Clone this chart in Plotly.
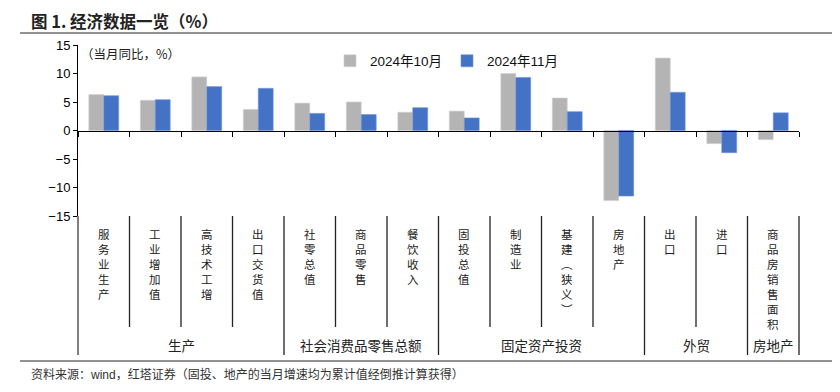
import plotly.graph_objects as go

# ---------------- data ----------------
categories = ["服务业生产", "工业增加值", "高技术工增", "出口交货值", "社零总值", "商品零售",
              "餐饮收入", "固投总值", "制造业", "基建（狭义）", "房地产", "出口", "进口", "商品房销售面积"]
groups = ["生产", "社会消费品零售总额", "固定资产投资", "外贸", "房地产"]
group_sizes = [4, 3, 4, 2, 1]
series_names = ["2024年10月", "2024年11月"]
oct_2024 = [6.3, 5.3, 9.4, 3.7, 4.8, 5.0, 3.2, 3.4, 10.0, 5.7, -12.3, 12.7, -2.3, -1.6]
nov_2024 = [6.1, 5.4, 7.7, 7.4, 3.0, 2.8, 4.0, 2.2, 9.3, 3.3, -11.5, 6.7, -3.9, 3.1]
y_ticks = [-15, -10, -5, 0, 5, 10, 15]
title_text = "图 1. 经济数据一览（%）"
unit_text = "（当月同比，%）"
source_text = "资料来源：wind，红塔证券（固投、地产的当月增速均为累计值经倒推计算获得）"

# ---------------- layout geometry (page pixels) ----------------
PAGE_W, PAGE_H = 840, 392
OFF = 8                       # default body margin of the html page
W, H = PAGE_W - OFF, PAGE_H - OFF
L, R, T, B = 78, 799, 45, 216  # plot area in page pixels
PW, PH = R - L, B - T


def px_x(p):
    return (p - L) / PW


def px_y(p):
    return (B - p) / PH


CJK = "Noto Sans CJK SC"
LAT = "Liberation Sans, Arial, Noto Sans CJK SC"
colors = ["#B4B4B4", "#4472C4"]
edge_colors = ["#D0D0D0", "#6F93D6"]

fig = go.Figure()
for name, vals, c, ec in zip(series_names, [oct_2024, nov_2024], colors, edge_colors):
    fig.add_trace(go.Bar(x=categories, y=vals, name=name, marker_color=c,
                         marker_line=dict(color=ec, width=0.6)))

n = len(categories)
shapes = []
annotations = []

# y axis extension downward through label area
shapes.append(dict(type="line", xref="paper", yref="paper", x0=0, x1=0,
                   y0=0, y1=px_y(355), line=dict(color="#000", width=1)))

# group / category separators
group_bounds = []
acc = 0
for s in group_sizes:
    acc += s
    group_bounds.append(acc)
for k in range(1, n + 1):
    bottom = px_y(355) if k in group_bounds else px_y(327)
    shapes.append(dict(type="line", xref="paper", yref="paper", x0=k / n, x1=k / n,
                       y0=0, y1=bottom, line=dict(color="#222", width=1.3)))

# vertical category labels
vert_map = {"（": "︵", "）": "︶"}
for cat in categories:
    txt = "<br>".join(vert_map.get(ch, ch) for ch in cat)
    annotations.append(dict(x=cat, xref="x", y=px_y(224), yref="paper", text=txt,
                            showarrow=False, yanchor="top", xanchor="center",
                            font=dict(family=CJK, size=11.5, color="#222")))

# group labels
start = 0
for g, s in zip(groups, group_sizes):
    center = (start + s / 2) / n
    annotations.append(dict(x=center, xref="paper", y=px_y(345), yref="paper", text=g,
                            showarrow=False, yanchor="middle", xanchor="center",
                            font=dict(family=CJK, size=13.5, color="#222")))
    start += s

# unit annotation
annotations.append(dict(x=px_x(79), xref="paper", y=px_y(53), yref="paper", text=unit_text,
                        showarrow=False, xanchor="left", yanchor="middle",
                        font=dict(family=CJK, size=12.5, color="#222")))

# source
annotations.append(dict(x=px_x(29), xref="paper", y=px_y(374), yref="paper", text=source_text,
                        showarrow=False, xanchor="left", yanchor="middle",
                        font=dict(family=LAT, size=12, color="#333")))

# title rule lines
for yy in (33, 361):
    shapes.append(dict(type="line", xref="paper", yref="paper", x0=px_x(20), x1=px_x(840),
                       y0=px_y(yy), y1=px_y(yy), line=dict(color="#6e6e6e", width=1.5)))

fig.update_layout(
    width=W, height=H,
    margin=dict(l=L - OFF, r=PAGE_W - R, t=T - OFF, b=PAGE_H - B, pad=0),
    paper_bgcolor="white", plot_bgcolor="white",
    title=dict(text="<b>" + title_text + "</b>", x=(31 - OFF) / W, xref="container",
               xanchor="left", y=1 - (22 - OFF) / H, yref="container", yanchor="middle",
               font=dict(family=CJK, size=16.5, color="#222")),
    barmode="group", bargap=0.42, bargroupgap=0,
    showlegend=True,
    legend=dict(orientation="h", x=px_x(330), y=px_y(61), xanchor="left", yanchor="middle",
                entrywidth=72, entrywidthmode="pixels", itemwidth=30,
                font=dict(family=LAT, size=13.5, color="#111"), bgcolor="rgba(0,0,0,0)"),
    xaxis=dict(type="category", anchor="free", position=0.5, showline=True, linecolor="#000",
               linewidth=1, ticks="outside", tickson="boundaries", ticklen=5, tickcolor="#000",
               showticklabels=False, showgrid=False, zeroline=False,
               range=[-0.5, n - 0.5]),
    yaxis=dict(range=[-15, 15], tickvals=y_ticks, ticks="outside", ticklen=4, tickcolor="#000",
               showline=True, linecolor="#000", linewidth=1, showgrid=False, zeroline=False,
               tickfont=dict(family=LAT, size=13, color="#000")),
    shapes=shapes, annotations=annotations,
)

fig.write_html("out.html")
